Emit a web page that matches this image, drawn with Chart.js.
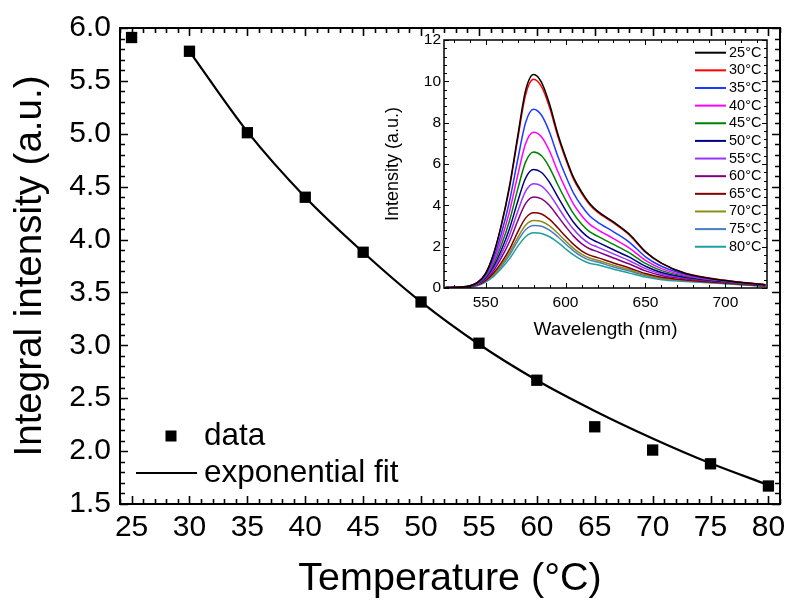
<!DOCTYPE html>
<html lang="en">
<head>
  <meta charset="UTF-8" />
  <title>Integral intensity vs temperature</title>
  <script src="https://cdn.jsdelivr.net/npm/chart.js"></script>
  <style>
    body { margin: 0; background: #fff; }
    #wrap { position: relative; width: 789px; height: 603px; }
    #main { position: absolute; left: 0; top: 0; }
    #inset { position: absolute; left: 370px; top: 30px; }
  </style>
</head>
<body>
<div id="wrap">
  <canvas id="main" width="789" height="603"></canvas>
  <canvas id="inset" width="410" height="320"></canvas>
</div>

<script>
// main plot
const tempC = [25, 30, 35, 40, 45, 50, 55, 60, 65, 70, 75, 80];
const intensity = [5.91, 5.78, 5.01, 4.40, 3.88, 3.41, 3.02, 2.67, 2.23, 2.01, 1.88, 1.67];
const fitT = [30, 35, 40, 45, 50, 55, 60, 65, 70, 75, 80];
const fitI = [5.78, 5.02, 4.40, 3.88, 3.41, 3.01, 2.67, 2.38, 2.12, 1.885, 1.68];
const xTicks = [25, 30, 35, 40, 45, 50, 55, 60, 65, 70, 75, 80];
const yTicks = [1.5, 2.0, 2.5, 3.0, 3.5, 4.0, 4.5, 5.0, 5.5, 6.0];

// inset spectra
const wavelength = [525, 535, 540, 545, 550, 555, 560, 565, 570, 575, 580, 585, 590, 595, 600, 605, 610, 615, 620, 630, 640, 650, 660, 675, 700, 725];
const s25 = [0.02, 0.05, 0.10, 0.27, 0.70, 1.65, 3.10, 4.95, 7.30, 9.55, 10.33, 9.95, 8.90, 7.50, 6.35, 5.35, 4.66, 4.10, 3.72, 3.20, 2.60, 1.76, 1.20, 0.70, 0.36, 0.15];
const s30 = [0.02, 0.05, 0.11, 0.27, 0.71, 1.64, 3.06, 4.86, 7.16, 9.34, 10.10, 9.74, 8.74, 7.39, 6.26, 5.27, 4.59, 4.04, 3.67, 3.15, 2.56, 1.73, 1.19, 0.71, 0.37, 0.16];
const s35 = [0.02, 0.05, 0.10, 0.25, 0.64, 1.45, 2.67, 4.21, 6.17, 8.00, 8.65, 8.36, 7.54, 6.41, 5.44, 4.59, 3.98, 3.50, 3.19, 2.72, 2.21, 1.51, 1.05, 0.66, 0.35, 0.15];
const s40 = [0.02, 0.05, 0.09, 0.23, 0.59, 1.30, 2.37, 3.71, 5.41, 6.98, 7.54, 7.31, 6.63, 5.67, 4.82, 4.06, 3.51, 3.09, 2.83, 2.39, 1.93, 1.34, 0.94, 0.61, 0.34, 0.14];
const s45 = [0.02, 0.04, 0.09, 0.21, 0.54, 1.17, 2.10, 3.27, 4.75, 6.09, 6.58, 6.40, 5.83, 5.02, 4.27, 3.60, 3.10, 2.73, 2.51, 2.11, 1.70, 1.19, 0.84, 0.57, 0.32, 0.13];
const s50 = [0.02, 0.04, 0.08, 0.20, 0.50, 1.05, 1.86, 2.88, 4.16, 5.31, 5.73, 5.59, 5.11, 4.43, 3.77, 3.18, 2.74, 2.41, 2.22, 1.85, 1.49, 1.05, 0.75, 0.52, 0.30, 0.12];
const s55 = [0.02, 0.04, 0.08, 0.18, 0.46, 0.95, 1.66, 2.56, 3.68, 4.67, 5.04, 4.93, 4.53, 3.95, 3.36, 2.84, 2.44, 2.15, 1.98, 1.65, 1.32, 0.94, 0.68, 0.49, 0.29, 0.12];
const s60 = [0.01, 0.04, 0.07, 0.17, 0.42, 0.85, 1.48, 2.25, 3.23, 4.08, 4.40, 4.31, 3.99, 3.49, 2.98, 2.51, 2.15, 1.90, 1.76, 1.45, 1.16, 0.83, 0.61, 0.45, 0.27, 0.11];
const s65 = [0.01, 0.03, 0.06, 0.15, 0.36, 0.72, 1.24, 1.88, 2.69, 3.38, 3.64, 3.58, 3.32, 2.93, 2.50, 2.11, 1.80, 1.59, 1.47, 1.21, 0.97, 0.70, 0.52, 0.39, 0.24, 0.10];
const s70 = [0.01, 0.03, 0.06, 0.14, 0.34, 0.66, 1.13, 1.71, 2.43, 3.04, 3.27, 3.22, 3.01, 2.66, 2.28, 1.92, 1.64, 1.45, 1.34, 1.10, 0.88, 0.64, 0.47, 0.37, 0.23, 0.09];
const s75 = [0.01, 0.03, 0.06, 0.13, 0.32, 0.62, 1.06, 1.59, 2.26, 2.82, 3.03, 2.99, 2.80, 2.49, 2.13, 1.80, 1.53, 1.35, 1.26, 1.02, 0.82, 0.60, 0.45, 0.35, 0.22, 0.09];
const s80 = [0.01, 0.03, 0.05, 0.12, 0.29, 0.56, 0.95, 1.42, 2.00, 2.48, 2.67, 2.64, 2.48, 2.22, 1.90, 1.60, 1.36, 1.20, 1.12, 0.91, 0.72, 0.53, 0.40, 0.32, 0.20, 0.08];
const insetLabels = ['25°C', '30°C', '35°C', '40°C', '45°C', '50°C', '55°C', '60°C', '65°C', '70°C', '75°C', '80°C'];
const insetSeries = [s25, s30, s35, s40, s45, s50, s55, s60, s65, s70, s75, s80];
const insetColors = ['#000000', '#ff0000', '#1a3cff', '#ff00ff', '#008000', '#000080', '#9933ff', '#800080', '#800000', '#8c8c1a', '#4a7fbf', '#1f9f9f'];
const insetXTicks = [550, 600, 650, 700];
const insetYTicks = [0, 2, 4, 6, 8, 10, 12];

Chart.defaults.font.family = '"Liberation Sans", Arial, sans-serif';
Chart.defaults.color = '#000';

function range(a, b, step) {
  const out = [];
  for (let v = a; v <= b + 1e-9; v += step) out.push(+v.toFixed(4));
  return out;
}

// box round the plot with inward ticks on all four sides
const frameTicks = {
  id: 'frameTicks',
  afterDatasetsDraw(chart, args, opts) {
    const { ctx, chartArea: a, scales: { x, y } } = chart;
    ctx.save();
    ctx.strokeStyle = '#000';
    ctx.lineWidth = opts.tickWidth;
    ctx.beginPath();
    const mark = (xs, ys, len) => {
      xs.forEach(v => {
        const px = Math.round(x.getPixelForValue(v)) + 0.5;
        ctx.moveTo(px, a.bottom); ctx.lineTo(px, a.bottom - len);
        ctx.moveTo(px, a.top); ctx.lineTo(px, a.top + len);
      });
      ys.forEach(v => {
        const py = Math.round(y.getPixelForValue(v)) + 0.5;
        ctx.moveTo(a.left, py); ctx.lineTo(a.left + len, py);
        ctx.moveTo(a.right, py); ctx.lineTo(a.right - len, py);
      });
    };
    mark(opts.majorX, opts.majorY, opts.majorLen);
    mark(opts.minorX, opts.minorY, opts.minorLen);
    ctx.stroke();
    ctx.lineWidth = opts.borderWidth;
    ctx.strokeRect(a.left, a.top, a.right - a.left, a.bottom - a.top);
    ctx.restore();
  }
};

// legend of the main plot, lower left inside the frame
const mainLegend = {
  id: 'mainLegend',
  afterDraw(chart, args, opts) {
    const ctx = chart.ctx;
    const ds = chart.data.datasets;
    ctx.save();
    ctx.fillStyle = '#000';
    ctx.strokeStyle = '#000';
    ctx.fillRect(opts.markX - opts.markSize / 2, opts.row1 - opts.markSize / 2, opts.markSize, opts.markSize);
    ctx.lineWidth = 2;
    ctx.beginPath();
    ctx.moveTo(opts.lineX0, opts.row2);
    ctx.lineTo(opts.lineX1, opts.row2);
    ctx.stroke();
    ctx.font = opts.font;
    ctx.textBaseline = 'middle';
    ctx.fillText(ds[0].label, opts.textX, opts.row1);
    ctx.fillText(ds[1].label, opts.textX, opts.row2);
    ctx.restore();
  }
};

// legend of the inset, one column at the top right
const insetLegend = {
  id: 'insetLegend',
  afterDraw(chart, args, opts) {
    const ctx = chart.ctx;
    ctx.save();
    ctx.font = opts.font;
    ctx.textBaseline = 'middle';
    chart.data.datasets.forEach((d, i) => {
      const y = opts.top + i * opts.step;
      ctx.strokeStyle = d.borderColor;
      ctx.lineWidth = 2;
      ctx.beginPath();
      ctx.moveTo(opts.lineX, y);
      ctx.lineTo(opts.lineX + opts.lineLen, y);
      ctx.stroke();
      ctx.fillStyle = '#000';
      ctx.fillText(d.label, opts.textX, y);
    });
    ctx.restore();
  }
};

function zeroPad(scale) {
  scale.paddingLeft = scale.paddingRight = scale.paddingTop = scale.paddingBottom = 0;
}

new Chart(document.getElementById('main'), {
  type: 'line',
  data: {
    datasets: [
      {
        label: 'data',
        data: tempC.map((t, i) => ({ x: t, y: intensity[i] })),
        showLine: false,
        pointStyle: 'rect',
        pointRadius: 8,
        pointBorderWidth: 0,
        pointBackgroundColor: '#000',
        borderColor: '#000'
      },
      {
        label: 'exponential fit',
        data: fitT.map((t, i) => ({ x: t, y: fitI[i] })),
        borderColor: '#000',
        borderWidth: 2.2,
        pointRadius: 0,
        cubicInterpolationMode: 'monotone',
        fill: false
      }
    ]
  },
  options: {
    responsive: false,
    animation: false,
    events: [],
    layout: { padding: { top: 28, right: 9, left: 0, bottom: 0 } },
    plugins: {
      legend: { display: false },
      tooltip: { enabled: false },
      frameTicks: {
        majorX: xTicks, majorY: yTicks,
        minorX: range(24, 81, 1), minorY: range(1.5, 6.0, 0.1),
        majorLen: 8, minorLen: 5, tickWidth: 1.6, borderWidth: 2
      },
      mainLegend: {
        markX: 171, markSize: 11, row1: 436, row2: 473,
        lineX0: 136, lineX1: 197, textX: 204,
        font: '31.5px "Liberation Sans", Arial, sans-serif'
      }
    },
    scales: {
      x: {
        type: 'linear', min: 24, max: 81,
        grid: { display: false, drawTicks: false },
        border: { display: false },
        afterBuildTicks: s => { s.ticks = xTicks.map(v => ({ value: v })); },
        afterFit: s => { s.height = 99; zeroPad(s); },
        ticks: { font: { size: 30 }, padding: 6, autoSkip: false, maxRotation: 0 },
        title: { display: true, text: 'Temperature (°C)', font: { size: 39.5 }, padding: { top: 0, bottom: 0 } }
      },
      y: {
        type: 'linear', min: 1.5, max: 6.0,
        grid: { display: false, drawTicks: false },
        border: { display: false },
        afterBuildTicks: s => { s.ticks = yTicks.map(v => ({ value: v })); },
        afterFit: s => { s.width = 120; zeroPad(s); },
        ticks: { font: { size: 30 }, padding: 9, autoSkip: false, callback: v => v.toFixed(1) },
        title: { display: true, text: 'Integral intensity (a.u.)', font: { size: 38.5 }, padding: { top: 7, bottom: 0 } }
      }
    }
  },
  plugins: [frameTicks, mainLegend]
});

new Chart(document.getElementById('inset'), {
  type: 'line',
  data: {
    datasets: insetSeries.map((s, i) => ({
      label: insetLabels[i],
      data: wavelength.map((w, j) => ({ x: w, y: s[j] })),
      borderColor: insetColors[i],
      borderWidth: 1.5,
      pointRadius: 0,
      cubicInterpolationMode: 'monotone',
      fill: false
    }))
  },
  options: {
    responsive: false,
    animation: false,
    events: [],
    layout: { padding: { top: 10, right: 13, left: 0, bottom: 0 } },
    plugins: {
      legend: { display: false },
      tooltip: { enabled: false },
      frameTicks: {
        majorX: insetXTicks, majorY: insetYTicks,
        minorX: range(530, 720, 10), minorY: range(0, 12, 0.4),
        majorLen: 5, minorLen: 3, tickWidth: 1, borderWidth: 1.5
      },
      insetLegend: {
        lineX: 325, lineLen: 31, textX: 359, top: 22.7, step: 17.64,
        font: '14.5px "Liberation Sans", Arial, sans-serif'
      }
    },
    scales: {
      x: {
        type: 'linear', min: 524, max: 726,
        grid: { display: false, drawTicks: false },
        border: { display: false },
        afterBuildTicks: s => { s.ticks = insetXTicks.map(v => ({ value: v })); },
        afterFit: s => { s.height = 62; zeroPad(s); },
        ticks: { font: { size: 15.5 }, padding: 5, autoSkip: false, maxRotation: 0 },
        title: { display: true, text: 'Wavelength (nm)', font: { size: 19 }, padding: { top: 0, bottom: 9 } }
      },
      y: {
        type: 'linear', min: 0, max: 12,
        grid: { display: false, drawTicks: false },
        border: { display: false },
        afterBuildTicks: s => { s.ticks = insetYTicks.map(v => ({ value: v })); },
        afterFit: s => { s.width = 74; zeroPad(s); },
        ticks: { font: { size: 15.5 }, padding: 3, autoSkip: false },
        title: { display: true, text: 'Intensity (a.u.)', font: { size: 18 }, padding: { top: 12, bottom: 0 } }
      }
    }
  },
  plugins: [frameTicks, insetLegend]
});
</script>
</body>
</html>
